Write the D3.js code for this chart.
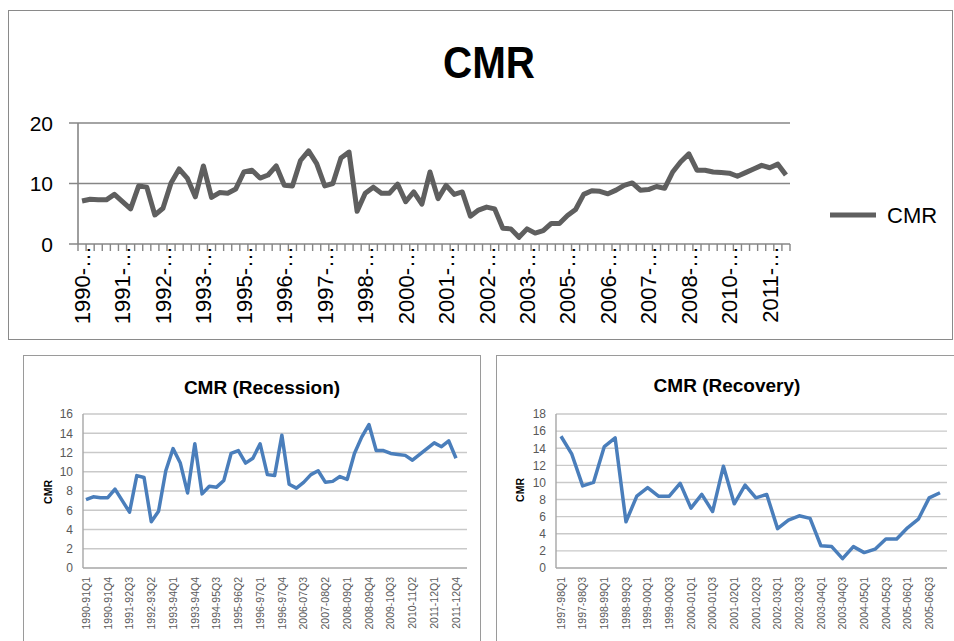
<!DOCTYPE html>
<html><head><meta charset="utf-8">
<script src="https://cdn.jsdelivr.net/npm/d3@7/dist/d3.min.js"></script>
<style>
html,body{margin:0;padding:0;background:#fff;}
svg{display:block;font-family:"Liberation Sans",Arial,sans-serif;}
</style></head><body>
<svg id="c" width="954" height="641"></svg>
<script>
// ---------- DATA ----------
const quarters = ["Q1","Q2","Q3","Q4"];
const recessionYearsA = ["1990-91","1991-92","1992-93","1993-94","1994-95","1995-96","1996-97"];
const recoveryYears   = ["1997-98","1998-99","1999-00","2000-01","2001-02","2002-03","2003-04","2004-05","2005-06"];
const recessionYearsB = ["2006-07","2007-08","2008-09","2009-10","2010-11","2011-12"];

// CMR values
const recessionValuesA = [7.1,7.4,7.3,7.3,8.2,7.0,5.8,9.6,9.4,4.8,5.9,10.1,12.4,10.9,7.8,12.9,
                          7.7,8.5,8.4,9.1,11.9,12.2,10.9,11.4,12.9,9.7,9.6,13.8];
const recoveryValues   = [15.4,13.3,9.6,10.0,14.2,15.2,5.4,8.4,9.4,8.4,8.4,9.9,7.0,8.6,6.6,11.9,
                          7.5,9.7,8.2,8.6,4.6,5.6,6.1,5.8,2.6,2.5,1.1,2.5,1.8,2.2,3.4,3.4,
                          4.7,5.7,8.2,8.8];
const recessionValuesB = [8.7,8.3,8.9,9.7,10.1,8.9,9.0,9.5,9.2,11.9,13.6,14.9,12.2,12.2,11.9,11.8,
                          11.7,11.2,11.8,12.4,13.0,12.6,13.2,11.4];

const mainTicks = [0,10,20];
const recessionTicks = [0,2,4,6,8,10,12,14,16];
const recoveryTicks  = [0,2,4,6,8,10,12,14,16,18];

const mainTitle = "CMR";
const recessionTitle = "CMR (Recession)";
const recoveryTitle  = "CMR (Recovery)";
const seriesName = "CMR";

// ---------- BUILD ----------
const periods = ys => ys.flatMap(y => quarters.map(q => y + q));
const recessionCats = periods(recessionYearsA).concat(periods(recessionYearsB));
const recessionVals = recessionValuesA.concat(recessionValuesB);
const recoveryCats = periods(recoveryYears);
const mainCats = periods(recessionYearsA).concat(recoveryCats, periods(recessionYearsB));
const mainVals = recessionValuesA.concat(recoveryValues, recessionValuesB);

const svg = d3.select("#c");

// ---------- MAIN CHART ----------
svg.append("rect").attr("x",8.5).attr("y",10.5).attr("width",944).attr("height",329)
  .attr("fill","none").attr("stroke","#8a8a8a").attr("stroke-width",1);

svg.append("text").attr("x",489).attr("y",78).attr("text-anchor","middle")
  .attr("textLength",92).attr("lengthAdjust","spacingAndGlyphs")
  .style("font-weight","bold").style("font-size","45px").text(mainTitle);

const mx = d3.scaleBand().domain(mainCats).range([78,790]).paddingInner(0).paddingOuter(0);
const my = d3.scaleLinear().domain([0,20]).range([244,123]);

// gridlines + y ticks
svg.append("g").selectAll("line").data(mainTicks).join("line")
  .attr("x1",69).attr("x2",790).attr("y1",d=>my(d)).attr("y2",d=>my(d))
  .attr("stroke","#868686").attr("stroke-width",1.6);
svg.append("line").attr("x1",78).attr("x2",78).attr("y1",my(20)).attr("y2",my(0))
  .attr("stroke","#868686").attr("stroke-width",1.6);
svg.append("g").selectAll("text").data(mainTicks).join("text")
  .attr("x",53).attr("y",d=>my(d)).attr("dy","0.36em").attr("text-anchor","end")
  .style("font-size","21px").attr("fill","#000").text(d=>d);

// category ticks
const bounds = mainCats.map(c=>mx(c)).concat([mx.range()[1]]);
svg.append("g").selectAll("line").data(bounds).join("line")
  .attr("x1",d=>d).attr("x2",d=>d).attr("y1",my(0)).attr("y2",my(0)+7)
  .attr("stroke","#868686").attr("stroke-width",1.4);

// category labels (every 5th, truncated)
const mainLabelCats = mainCats.filter((c,i)=>i%5===0);
svg.append("g").selectAll("text").data(mainLabelCats).join("text")
  .attr("transform",d=>`translate(${mx(d)+mx.bandwidth()/2},246) rotate(-90)`)
  .attr("dy","0.36em").attr("text-anchor","end")
  .style("font-size","22px").attr("fill","#000")
  .text(d=>d.slice(0,5)+"\u2026");

// line
svg.append("path").datum(mainVals)
  .attr("d", d3.line().x((d,i)=>mx(mainCats[i])+mx.bandwidth()/2).y(d=>my(d)))
  .attr("fill","none").attr("stroke","#5f5f5f").attr("stroke-width",5)
  .attr("stroke-linejoin","round");

// legend
svg.append("line").attr("x1",830).attr("x2",876).attr("y1",215).attr("y2",215)
  .attr("stroke","#5f5f5f").attr("stroke-width",5);
svg.append("text").attr("x",887).attr("y",215).attr("dy","0.36em")
  .style("font-size","22px").text(seriesName);

// ---------- SMALL CHARTS ----------
function smallChart(o){
  svg.append("rect").attr("x",o.box[0]+0.5).attr("y",o.box[1]+0.5)
    .attr("width",o.box[2]).attr("height",o.box[3])
    .attr("fill","none").attr("stroke","#9a9a9a").attr("stroke-width",1);
  svg.append("text").attr("x",o.titleX).attr("y",o.titleY).attr("text-anchor","middle")
    .style("font-weight","bold").style("font-size","19px").attr("fill","#000").text(o.title);
  const x = d3.scalePoint().domain(o.cats).range(o.pointRange);
  const y = d3.scaleLinear().domain([0,o.max]).range([568,414]);
  svg.append("g").selectAll("line").data(o.ticks).join("line")
    .attr("x1",o.gridX[0]).attr("x2",o.gridX[1]).attr("y1",d=>y(d)).attr("y2",d=>y(d))
    .attr("stroke",d=>d===0?"#a6a6a6":"#c9c9c9").attr("stroke-width",1.4);
  svg.append("line").attr("x1",o.gridX[0]).attr("x2",o.gridX[0]).attr("y1",y(o.max)).attr("y2",y(0))
    .attr("stroke","#a6a6a6").attr("stroke-width",1.4);
  svg.append("g").selectAll("text").data(o.ticks).join("text")
    .attr("x",o.gridX[0]-10).attr("y",d=>y(d)).attr("dy","0.36em").attr("text-anchor","end")
    .style("font-size","12px").attr("fill","#595959").text(d=>d);
  svg.append("text")
    .attr("transform",`translate(${o.yTitleX},${o.yTitleY}) rotate(-90)`)
    .attr("text-anchor","middle").attr("dy","0.36em")
    .style("font-weight","bold").style("font-size","10.5px").attr("fill","#000").text(seriesName);
  const labCats = o.cats.filter((c,i)=>i%o.every===0);
  svg.append("g").selectAll("text").data(labCats).join("text")
    .attr("transform",d=>`translate(${x(d)},577) rotate(-90)`)
    .attr("dy","0.36em").attr("text-anchor","end")
    .style("font-size","10.5px").attr("fill","#595959").text(d=>d);
  svg.append("path").datum(o.vals)
    .attr("d", d3.line().x((d,i)=>x(o.cats[i])).y(d=>y(d)))
    .attr("fill","none").attr("stroke","#4a7ebb").attr("stroke-width",3.5)
    .attr("stroke-linejoin","round");
}

smallChart({box:[23,355,457,300], title:recessionTitle, titleX:262, titleY:394,
  cats:recessionCats, vals:recessionVals, max:16, ticks:recessionTicks,
  pointRange:[86,456], gridX:[83,467], yTitleX:48, yTitleY:492, every:3});
smallChart({box:[496,355,470,300], title:recoveryTitle, titleX:727, titleY:392,
  cats:recoveryCats, vals:recoveryValues, max:18, ticks:recoveryTicks,
  pointRange:[561,940], gridX:[556,947], yTitleX:520, yTitleY:490, every:2});
</script>
</body></html>
